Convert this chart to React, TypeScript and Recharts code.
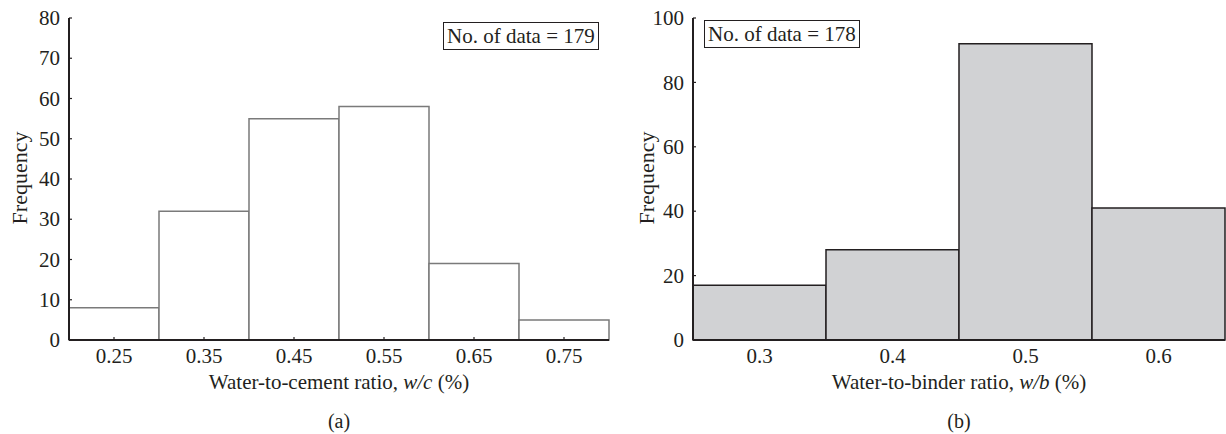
import { Bar, BarChart, XAxis, YAxis, Label } from 'recharts';

const wcBins = ['0.25', '0.35', '0.45', '0.55', '0.65', '0.75'];
const wcFreq = [8, 32, 55, 58, 19, 5];
const wcTicks = [0, 10, 20, 30, 40, 50, 60, 70, 80];

const wbBins = ['0.3', '0.4', '0.5', '0.6'];
const wbFreq = [17, 28, 92, 41];
const wbTicks = [0, 20, 40, 60, 80, 100];

const FONT = '"Liberation Serif", "DejaVu Serif", serif';
const FS = 21;
const INK = '#231f20';

const wcData = wcBins.map((bin, i) => ({ bin, freq: wcFreq[i] }));
const wbData = wbBins.map((bin, i) => ({ bin, freq: wbFreq[i] }));

// x tick: label below, small mark pointing into the plot
function XTick(props: any) {
    const { x, y, payload, mark } = props;
    const axisY = y - 8;
    return (
        <g>
            {mark && <line x1={x} x2={x} y1={axisY} y2={axisY - 3} stroke={INK} strokeWidth={1.2} />}
            <text x={x} y={y} dy="0.72em" textAnchor="middle" fontFamily={FONT} fontSize={FS} fill={INK}>
                {payload.value}
            </text>
        </g>
    );
}

function YTick(props: any) {
    const { x, y, payload } = props;
    const axisX = x + 9;
    return (
        <g>
            <line x1={axisX} x2={axisX + 3} y1={y} y2={y} stroke={INK} strokeWidth={1.2} />
            <text x={x} y={y} dy="0.34em" textAnchor="end" fontFamily={FONT} fontSize={FS} fill={INK}>
                {payload.value}
            </text>
        </g>
    );
}

function xTitle(main: string, ital: string) {
    return (props: any) => {
        const vb = props.viewBox;
        return (
            <text
                x={vb.x + vb.width / 2}
                y={vb.y + 49}
                textAnchor="middle"
                fontFamily={FONT}
                fontSize={FS}
                fill={INK}
            >
                {main}
                <tspan fontStyle="italic">{ital}</tspan>
                {' (%)'}
            </text>
        );
    };
}

function Panel(props: {
    data: { bin: string; freq: number }[];
    ticks: number[];
    max: number;
    fill: string;
    stroke: string;
    frame: string;
    yAxisWidth: number;
    width: number;
    left: number;
    markX: boolean;
    title: [string, string];
    tag: string;
    box: { text: string; x: number; y: number };
}) {
    const p = props;
    const rightMargin = p.left > 0 ? 1 : 11;
    return (
        <div style={{ position: 'absolute', left: p.left, top: 0, width: p.width, height: 434 }}>
            <BarChart
                width={p.width}
                height={434}
                data={p.data}
                margin={{ top: 18, right: rightMargin, left: 0, bottom: 64 }}
                barCategoryGap={0}
            >
                <XAxis
                    dataKey="bin"
                    xAxisId="top"
                    orientation="top"
                    height={0}
                    tick={false}
                    tickLine={false}
                    axisLine={{ stroke: p.frame, strokeWidth: 1.5 }}
                />
                <YAxis
                    yAxisId="right"
                    orientation="right"
                    width={0}
                    domain={[0, p.max]}
                    tick={false}
                    tickLine={false}
                    axisLine={{ stroke: p.frame, strokeWidth: 1.5 }}
                />
                <XAxis
                    dataKey="bin"
                    height={30}
                    tickSize={0}
                    tickMargin={8}
                    tickLine={false}
                    interval={0}
                    axisLine={{ stroke: INK, strokeWidth: 2 }}
                    tick={(t: any) => <XTick {...t} mark={p.markX} />}
                >
                    <Label content={xTitle(p.title[0], p.title[1])} />
                </XAxis>
                <YAxis
                    width={p.yAxisWidth}
                    domain={[0, p.max]}
                    ticks={p.ticks}
                    interval={0}
                    tickSize={0}
                    tickMargin={9}
                    tickLine={false}
                    axisLine={{ stroke: INK, strokeWidth: 2 }}
                    tick={<YTick />}
                />
                <Bar
                    dataKey="freq"
                    fill={p.fill}
                    stroke={p.stroke}
                    strokeWidth={1.5}
                    isAnimationActive={false}
                />
            </BarChart>
            <div
                style={{
                    position: 'absolute',
                    left: p.left > 0 ? 27 : 20,
                    top: 178,
                    transform: 'translate(-50%, -50%) rotate(-90deg)',
                    fontFamily: FONT,
                    fontSize: 22,
                    color: INK,
                    whiteSpace: 'nowrap',
                    lineHeight: 1,
                }}
            >
                Frequency
            </div>
            <div
                style={{
                    position: 'absolute',
                    left: p.box.x,
                    top: p.box.y,
                    border: `1.5px solid ${INK}`,
                    padding: '1px 3px 0px 3px',
                    fontFamily: FONT,
                    fontSize: FS,
                    lineHeight: '25px',
                    color: INK,
                    background: '#fff',
                    whiteSpace: 'nowrap',
                }}
            >
                {p.box.text}
            </div>
            <div
                style={{
                    position: 'absolute',
                    left: p.yAxisWidth + (p.width - p.yAxisWidth - rightMargin) / 2,
                    top: 421,
                    transform: 'translate(-50%, -50%)',
                    fontFamily: FONT,
                    fontSize: 20,
                    color: INK,
                    lineHeight: 1,
                }}
            >
                {p.tag}
            </div>
        </div>
    );
}

export default function App() {
    return (
        <div style={{ position: 'absolute', left: 0, top: 0, width: 1226, height: 434, background: '#fff' }}>
            <Panel
                data={wcData}
                ticks={wcTicks}
                max={80}
                fill="#ffffff"
                stroke="#7a7a7a"
                frame={INK}
                yAxisWidth={69}
                width={620}
                left={0}
                markX
                title={['Water-to-cement ratio, ', 'w/c']}
                tag="(a)"
                box={{ text: 'No. of data = 179', x: 443, y: 22 }}
            />
            <Panel
                data={wbData}
                ticks={wbTicks}
                max={100}
                fill="#d1d2d4"
                stroke={INK}
                frame="#8a8a8a"
                yAxisWidth={73}
                width={606}
                left={620}
                markX={false}
                title={['Water-to-binder ratio, ', 'w/b']}
                tag="(b)"
                box={{ text: 'No. of data = 178', x: 84, y: 20 }}
            />
        </div>
    );
}
